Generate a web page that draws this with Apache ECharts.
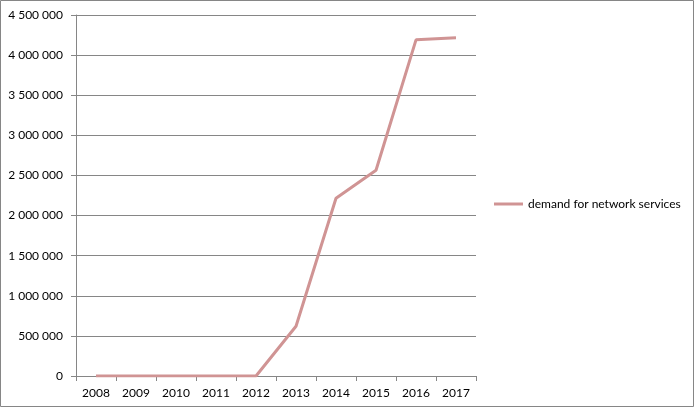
<!DOCTYPE html>
<html><head><meta charset="utf-8">
<script src="https://cdn.jsdelivr.net/npm/echarts@6/dist/echarts.min.js"></script>
<style>html,body{margin:0;padding:0;background:#fff}#c{width:696px;height:410px}</style>
</head><body><div id="c"></div>
<script>
const categories = ['2008','2009','2010','2011','2012','2013','2014','2015','2016','2017'];
const demand = [0, 0, 0, 0, 0, 620000, 2215000, 2565000, 4190000, 4215000];
const seriesName = 'demand for network services';

const chart = echarts.init(document.getElementById('c'), null, {renderer: 'canvas'});
const font = 'Lato, "Open Sans", sans-serif';
const fmt = v => String(v).replace(/\B(?=(\d{3})+(?!\d))/g, ' ');
chart.setOption({
  animation: false,
  backgroundColor: '#fff',
  graphic: [{
    type: 'rect', shape: {x: 0.5, y: 0.5, width: 693, height: 406},
    style: {fill: 'none', stroke: '#868686', lineWidth: 1}, silent: true
  }],
  grid: {left: 76, top: 15, width: 400, height: 361, containLabel: false},
  legend: {
    left: 489, top: 193, orient: 'vertical', padding: 5,
    icon: 'rect', itemWidth: 29, itemHeight: 3,
    textStyle: {fontFamily: font, fontSize: 12, color: '#000'},
    data: [seriesName]
  },
  xAxis: {
    type: 'category', data: categories, boundaryGap: true,
    axisLine: {lineStyle: {color: '#868686', width: 1}},
    axisTick: {show: true, length: 5, inside: false, alignWithLabel: false, lineStyle: {color: '#868686'}},
    axisLabel: {fontFamily: font, fontSize: 12, color: '#000', margin: 11},
    splitLine: {show: false}
  },
  yAxis: {
    type: 'value', min: 0, max: 4500000, interval: 500000,
    axisLine: {show: true, lineStyle: {color: '#868686', width: 1}},
    axisTick: {show: true, length: 5, lineStyle: {color: '#868686'}},
    axisLabel: {fontFamily: font, fontSize: 12, color: '#000', margin: 13, formatter: fmt},
    splitLine: {show: true, lineStyle: {color: '#868686', width: 1}}
  },
  series: [{
    name: seriesName, type: 'line', data: demand,
    symbol: 'none', smooth: false,
    lineStyle: {color: '#D09494', width: 3},
    itemStyle: {color: '#D09494'}
  }]
});
</script></body></html>
